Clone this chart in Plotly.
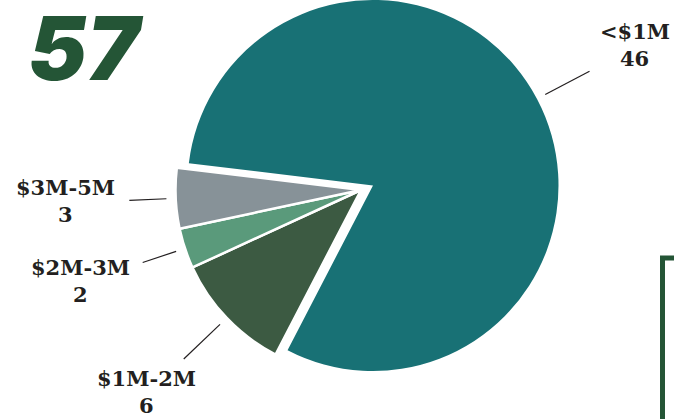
import numpy as np
import plotly.graph_objects as go

W, H = 674, 419

ranges = ["<$1M", "$1M-2M", "$2M-3M", "$3M-5M"]
counts = [46, 6, 2, 3]
total_label = "57"

colors = ["#187175", "#3c5a42", "#5a9a7b", "#879298"]
clear = "rgba(0,0,0,0)"

# pie geometry (pixels)
rotation = -83.1
R = 185.5
teal_c = (373.0, 185.5)   # pulled-out big slice
rest_c = (361.0, 190.0)   # remaining slices


def dom(c):
    return dict(
        x=[(c[0] - R) / W, (c[0] + R) / W],
        y=[1 - (c[1] + R) / H, 1 - (c[1] - R) / H],
    )


fig = go.Figure()

# big slice on its own, shifted out
fig.add_trace(
    go.Pie(
        labels=ranges,
        values=counts,
        sort=False,
        direction="clockwise",
        rotation=rotation,
        domain=dom(teal_c),
        textinfo="none",
        hoverinfo="label+value",
        marker=dict(colors=[colors[0], clear, clear, clear], line=dict(width=0)),
    )
)
# smaller slices
fig.add_trace(
    go.Pie(
        labels=ranges,
        values=counts,
        sort=False,
        direction="clockwise",
        rotation=rotation,
        domain=dom(rest_c),
        textinfo="none",
        hoverinfo="label+value",
        marker=dict(
            colors=[clear] + colors[1:],
            line=dict(color="white", width=[0, 2.5, 2.5, 2.5]),
        ),
    )
)

# labels + leader lines placed along each slice's bisector
vals = np.array(counts, dtype=float)
start = 90 - rotation
mid = start - (np.cumsum(vals) - vals / 2) / vals.sum() * 360
line_out = [1.32, 1.32, 1.24, 1.25]
lab_font = dict(family="DejaVu Serif", size=21, color="#231f20", weight="bold")

annotations = []
shapes = []
for i, (lab, v) in enumerate(zip(ranges, counts)):
    cx, cy = teal_c if i == 0 else rest_c
    t = np.deg2rad(mid[i])
    ux, uy = np.cos(t), -np.sin(t)
    lx, ly = cx + 1.595 * R * ux, cy + 1.595 * R * uy
    for txt, dy in ((lab, -15.5), (str(v), 11.5)):
        annotations.append(
            dict(
                x=lx / W, y=1 - (ly + dy) / H, xref="paper", yref="paper",
                text=txt, showarrow=False,
                xanchor="center", yanchor="middle", font=lab_font,
            )
        )
    x0, y0 = cx + 1.05 * R * ux, cy + 1.05 * R * uy
    x1, y1 = cx + line_out[i] * R * ux, cy + line_out[i] * R * uy
    shapes.append(
        dict(
            type="line", xref="paper", yref="paper",
            x0=x0 / W, y0=1 - y0 / H, x1=x1 / W, y1=1 - y1 / H,
            line=dict(color="#231f20", width=1.2),
        )
    )

# big total
annotations.append(
    dict(
        x=26 / W, y=1 - 48 / H, xref="paper", yref="paper",
        text=total_label, showarrow=False, xanchor="left", yanchor="middle",
        font=dict(family="Inter", size=88, color="#245536", weight=900, style="italic"),
    )
)

# partial frame at bottom right
shapes.append(
    dict(
        type="rect", xref="paper", yref="paper",
        x0=662.5 / W, x1=1.1, y0=-0.1, y1=1 - 258 / H,
        line=dict(color="#245536", width=5),
    )
)

fig.update_layout(
    width=W,
    height=H,
    margin=dict(l=0, r=0, t=0, b=0),
    paper_bgcolor="white",
    plot_bgcolor="white",
    showlegend=False,
    annotations=annotations,
    shapes=shapes,
)

fig.write_html(
    "out.html",
    config={"displayModeBar": False},
    post_script="document.body.style.margin = '0';",
)
